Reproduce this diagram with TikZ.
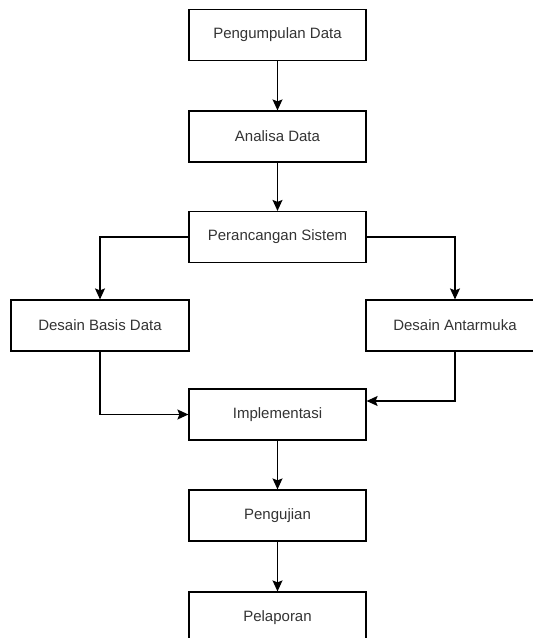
\documentclass[tikz,border=0pt]{standalone}
\usepackage{fontspec}
\setmainfont{Liberation Sans}
\usetikzlibrary{arrows.meta}
\definecolor{txt}{HTML}{333333}
\begin{document}
\begin{tikzpicture}[x=1pt,y=-1pt,
  box/.style={draw, line width=1.2pt, minimum width=177pt, minimum height=51pt,
    inner sep=0pt, font=\fontsize{15}{18}\selectfont, text=txt},
  flow/.style={draw, line width=1.2pt, -{Stealth[length=11pt,width=10pt,inset=2pt]}}]
\clip (0,0) rectangle (533,638);
\useasboundingbox (0,0) rectangle (533,638);
\node[box] (n1) at (277.5,35) {Pengumpulan Data};
\node[box] (n2) at (277.5,136.5) {Analisa Data};
\node[box] (n3) at (277.5,237) {Perancangan Sistem};
\node[box, minimum width=178pt] (n4) at (100,325.5) {Desain Basis Data};
\node[box, minimum width=178pt] (n5) at (455,325.5) {Desain Antarmuka};
\node[box] (n6) at (277.5,414.5) {Implementasi};
\node[box] (n7) at (277.5,515.5) {Pengujian};
\node[box] (n8) at (277.5,617.5) {Pelaporan};
\draw[flow] (n1.south) -- (n2.north);
\draw[flow] (n2.south) -- (n3.north);
\draw[flow] (n3.west) -| (n4.north);
\draw[flow] (n3.east) -| (n5.north);
\draw[flow] (n4.south) |- (n6.west);
\coordinate (n6r) at ([yshift=13.5pt]n6.east);
\draw[flow] (n5.south) |- (n6r);
\draw[flow] (n6.south) -- (n7.north);
\draw[flow] (n7.south) -- (n8.north);
\end{tikzpicture}
\end{document}
